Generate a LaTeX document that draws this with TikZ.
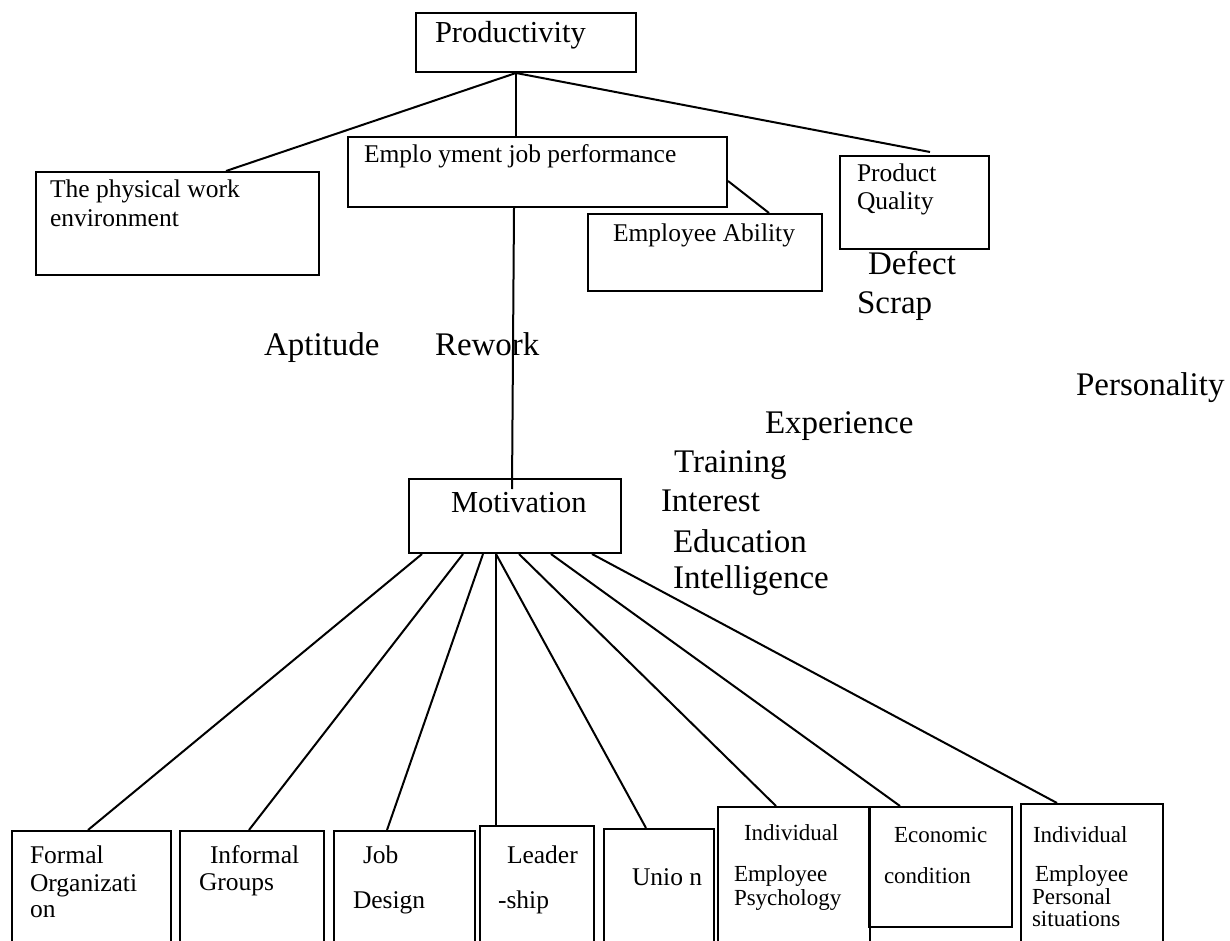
\documentclass[tikz,border=0pt]{standalone}
\usepackage{fontspec}
\setmainfont{Liberation Serif}
\usetikzlibrary{fit,calc}
\tikzset{
  box/.style={draw,inner sep=0pt,fit={#1}},
  txt/.style={anchor=base west,inner sep=0pt,font=\fontsize{12.75}{14}\selectfont},
  txts/.style={anchor=base west,inner sep=0pt,font=\fontsize{11.5}{13}\selectfont},
  ttl/.style={anchor=base west,inner sep=0pt,font=\fontsize{15.25}{17}\selectfont},
  lbl/.style={anchor=base west,inner sep=0pt,font=\fontsize{16.5}{19}\selectfont},
}
\begin{document}
\begin{tikzpicture}[x=0.5pt,y=-0.5pt,line width=1pt]
\clip (0,0) rectangle (1230,941);
\node[box={(416,13) (636,72)}] (prod) {};
\node[box={(36,172) (319,275)}] (phys) {};
\node[box={(348,137) (727,207)}] (emp) {};
\node[box={(588,214) (822,291)}] (abil) {};
\node[box={(840,156) (989,249)}] (qual) {};
\node[box={(409,479) (621,553)}] (mot) {};
\node[box={(12,831) (171,960)}] (formal) {};
\node[box={(180,831) (324,960)}] (infml) {};
\node[box={(334,831) (475,960)}] (jobd) {};
\node[box={(480,826) (594,960)}] (lead) {};
\node[box={(604,829) (714,960)}] (union) {};
\node[box={(718,807) (870,960)}] (psych) {};
\node[box={(869,807) (1012,927)}] (econ) {};
\node[box={(1021,804) (1163,960)}] (pers) {};

\node[ttl] (tprod) at (434,43) {Productivity};
\node[txt] (phys1) at (49,198) {The physical work};
\node[txt] (phys2) at (49,227) {environment};
\node[txt] (emp1) at (363,163) {Emplo yment job performance};
\node[txt] (abil1) at (612,242) {Employee Ability};
\node[txt] (qual1) at (856,182) {Product};
\node[txt] (qual2) at (856,210) {Quality};
\node[ttl] (tmot) at (450,512) {Motivation};

\node[txt] (formal1) at (29,863) {Formal};
\node[txt] (formal2) at (29,891) {Organizati};
\node[txt] (formal3) at (29,917) {on};
\node[txt] (infml1) at (209,863) {Informal};
\node[txt] (infml2) at (198,890) {Groups};
\node[txt] (jobd1) at (362,863) {Job};
\node[txt] (jobd2) at (352,908) {Design};
\node[txt] (lead1) at (506,863) {Leader};
\node[txt] (lead2) at (497,908) {-ship};
\node[txt] (union1) at (631,885) {Unio n};
\node[txts] (psych1) at (743,840) {Individual};
\node[txts] (psych2) at (733,881) {Employee};
\node[txts] (psych3) at (733,905) {Psychology};
\node[txts] (econ1) at (893,842) {Economic};
\node[txts] (econ2) at (883,883) {condition};
\node[txts] (pers1) at (1032,842) {Individual};
\node[txts] (pers2) at (1034,881) {Employee};
\node[txts] (pers3) at (1031,904) {Personal};
\node[txts] (pers4) at (1031,926) {situations};

\foreach \x/\y/\t in {867/274/Defect, 856/313/Scrap, 263/355/Aptitude, 434/355/Rework,
  1075/395/Personality, 764/433/Experience, 673/472/Training, 660/511/Interest,
  672/552/Education, 672/588/Intelligence}
  \node[lbl] (\t) at (\x,\y) {\t};

\draw ($(prod.south west)+(101,0)$) -- ($(phys.north west)+(191,0)$);
\draw ($(prod.south west)+(101,0)$) -- ($(emp.north west)+(169,0)$);
\draw ($(prod.south west)+(101,0)$) -- ($(qual.north west)+(91,-3)$);
\draw ($(emp.south east)+(0,-27)$) -- ($(abil.north west)+(182,0)$);
\draw ($(emp.south west)+(167,0)$) -- ($(mot.north west)+(104,11)$);
\foreach \a/\n/\b in {14/formal/77, 55/infml/70, 75/jobd/54, 88/lead/17,
  88/union/43, 111/psych/59, 143/econ/32, 184/pers/37}
  \draw ($(mot.south west)+(\a,0)$) -- ($(\n.north west)+(\b,0)$);
\end{tikzpicture}
\end{document}
